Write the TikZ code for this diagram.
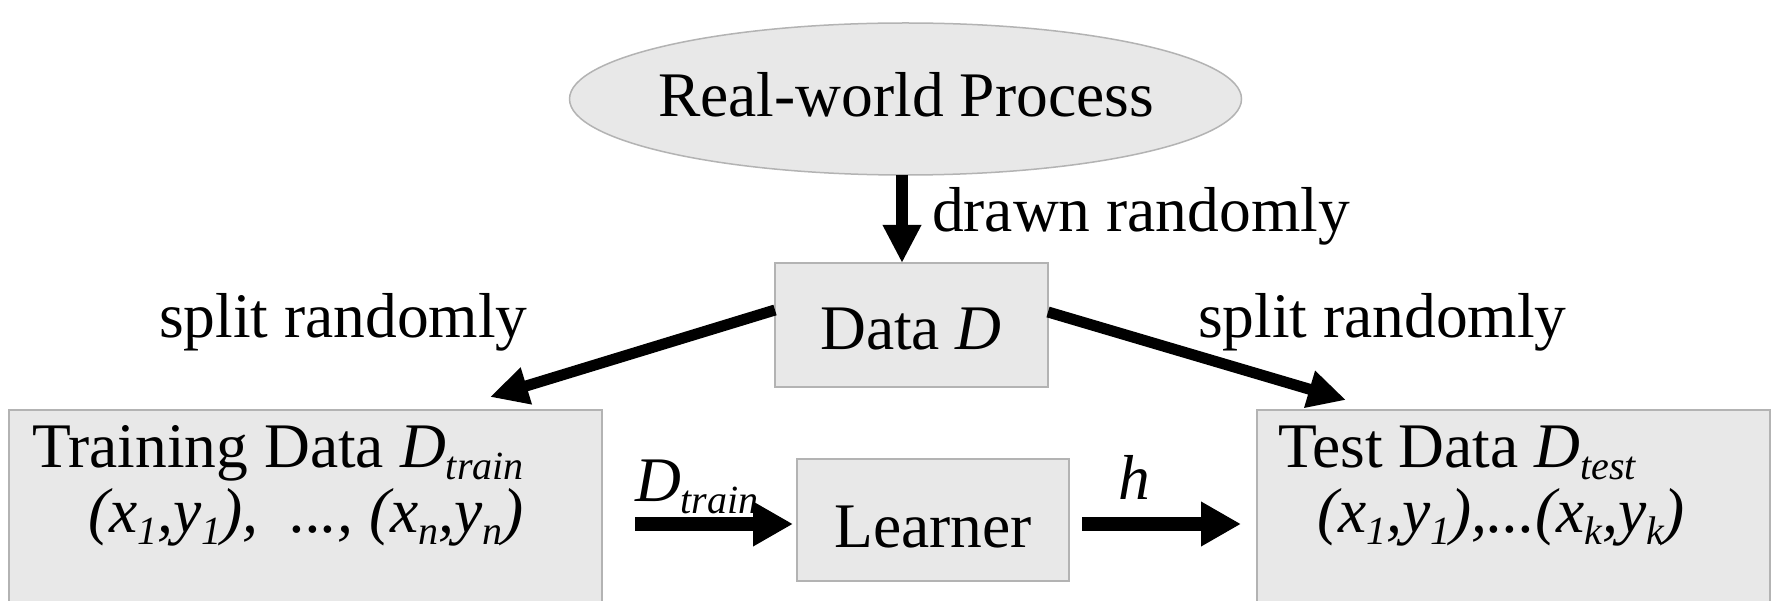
\documentclass[tikz,border=0pt]{standalone}
\usepackage{fontspec}
\setmainfont{Liberation Serif}
\usetikzlibrary{arrows.meta,shapes.geometric,calc}
\definecolor{boxfill}{HTML}{E8E8E8}
\definecolor{boxline}{HTML}{B3B3B3}
\newcommand{\sbs}[1]{\raisebox{-12pt}{\fontsize{40}{40}\selectfont\itshape #1}}
\begin{document}
\begin{tikzpicture}[x=1pt,y=-1pt,
  every node/.style={font=\fontsize{63.5}{70}\selectfont, inner sep=0pt, outer sep=0pt},
  box/.style={draw=boxline, line width=2pt, fill=boxfill, rectangle},
  lbl/.style={anchor=base west},
  arr/.style={line width=12pt, -{Triangle[length=38pt,width=36pt]}},
  harr/.style={line width=14pt, -{Triangle[length=40pt,width=42pt]}}]
\clip (0,0) rectangle (1777,601);
\fill[white] (0,0) rectangle (1777,601);
% shapes
\node[ellipse, draw=boxline, line width=1.5pt, fill=boxfill, minimum width=672pt, minimum height=152pt] (proc) at (905.5,99) {};
\node[box, minimum width=273pt, minimum height=124pt] (data) at (911.5,325) {};
\node[box, minimum width=272pt, minimum height=122pt] (learner) at (933,520) {};
\node[box, minimum width=593pt, minimum height=240pt] (train) at (305.5,530) {};
\node[box, minimum width=513pt, minimum height=240pt] (test) at (1513.5,530) {};
% texts
\node[anchor=base] (proct) at (906,117) {Real-world Process};
\node[anchor=base] (datat) at (911,349) {Data \textit{D}};
\node[anchor=base] (learnert) at (933,547) {Learner};
\node[lbl] (traint) at (32,467) {Training Data \textit{D}\sbs{train}};
\node[lbl] (trainx) at (88,532) {\textit{(x\sbs{1},y\sbs{1}),~ ..., (x\sbs{n},y\sbs{n})}};
\node[lbl] (testt) at (1278,467) {Test Data \textit{D}\sbs{test}};
\node[lbl] (testx) at (1317,532) {\textit{(x\sbs{1},y\sbs{1}),...(x\sbs{k},y\sbs{k})}};
\node[lbl] (drawn) at (932,232) {drawn randomly};
\node[lbl] (splitl) at (159,338) {split randomly};
\node[lbl] (splitr) at (1198,338) {split randomly};
\node[lbl] (dtrainl) at (635,501) {\textit{D}\sbs{train}};
\node[lbl] (hl) at (1118,499) {\textit{h}};
% connectors
\coordinate (tl) at (490,397);
\coordinate (tr) at (1346,400);
\draw[arr] ([xshift=-3.5pt]proc.south) -- ([xshift=-9.5pt]data.north);
\draw[arr, line width=11pt] ([yshift=15pt]data.west) -- (tl);
\draw[arr, line width=11pt] ([yshift=13pt]data.east) -- (tr);
\draw[harr] ($(train.east|-learner.west)+(33,4)$) -- ([xshift=-4pt,yshift=-4pt]learner.west);
\draw[harr] ($(learner.east)+(13,4)$) -- ($(test.west|-learner.east)+(-16,4)$);
\end{tikzpicture}
\end{document}
